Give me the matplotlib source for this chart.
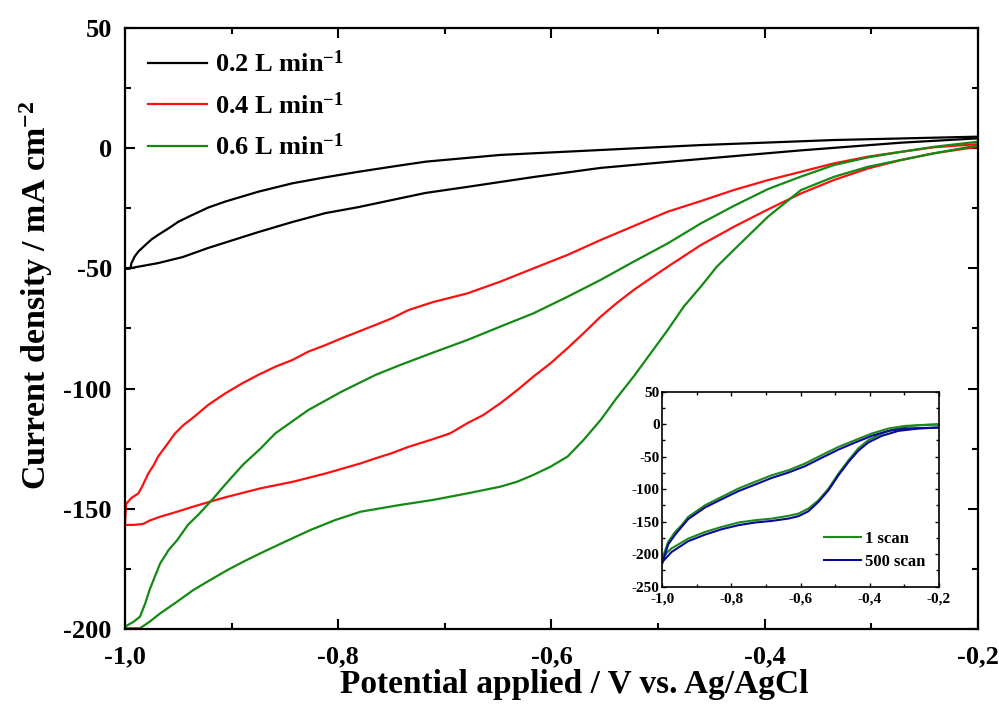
import matplotlib
matplotlib.use("Agg")
import matplotlib.pyplot as plt
from matplotlib.ticker import MultipleLocator

plt.rcParams['font.family'] = ['Liberation Serif', 'DejaVu Serif']
plt.rcParams['font.weight'] = 'bold'
plt.rcParams['mathtext.fontset'] = 'custom'
plt.rcParams['mathtext.rm'] = 'Liberation Serif:bold'
plt.rcParams['mathtext.it'] = 'Liberation Serif:bold'
plt.rcParams['mathtext.bf'] = 'Liberation Serif:bold'
plt.rcParams['axes.unicode_minus'] = False

# ---- Cyclic voltammograms at three electrolyte flow rates ----
# 0.2 L/min
v02_upper = [-1.0, -0.995, -0.994, -0.991, -0.9875, -0.981, -0.975, -0.969, -0.959, -0.950,
             -0.937, -0.922, -0.906, -0.875, -0.843, -0.812, -0.781, -0.750, -0.718, -0.648,
             -0.554, -0.460, -0.335, -0.2]
j02_upper = [-50.2, -50.0, -47.9, -45.1, -43.0, -40.3, -37.9, -36.1, -33.3, -30.6,
             -27.8, -24.7, -22.2, -18.1, -14.6, -12.1, -9.8, -7.7, -5.6, -2.8,
             -0.75, 1.3, 3.4, 4.8]
v02_lower = [-1.0, -0.969, -0.946, -0.922, -0.875, -0.843, -0.812, -0.781, -0.749, -0.718,
             -0.679, -0.617, -0.554, -0.491, -0.429, -0.366, -0.272, -0.2]
j02_lower = [-50.3, -47.8, -45.3, -41.5, -34.9, -30.7, -27.0, -24.5, -21.5, -18.6,
             -16.1, -12.0, -8.2, -5.7, -3.3, -0.9, 2.3, 4.1]

# 0.4 L/min
v04_upper = [-1.0, -0.999, -0.994, -0.9875, -0.984, -0.981, -0.978, -0.973, -0.969, -0.961,
             -0.953, -0.945, -0.937, -0.922, -0.906, -0.890, -0.875, -0.859, -0.843, -0.828,
             -0.812, -0.797, -0.781, -0.765, -0.750, -0.734, -0.718, -0.711, -0.679, -0.648,
             -0.617, -0.585, -0.554, -0.523, -0.491, -0.460, -0.429, -0.398, -0.366, -0.335,
             -0.303, -0.272, -0.241, -0.2]
j04_upper = [-156.0, -148.0, -145.5, -143.6, -140.8, -138.0, -135.2, -131.8, -128.3, -123.5,
             -118.6, -115.1, -112.4, -106.8, -102.0, -97.8, -94.3, -90.9, -88.1, -84.6,
             -81.9, -79.1, -76.3, -73.5, -70.8, -67.3, -65.0, -64.0, -60.4, -55.5,
             -50.0, -44.4, -38.2, -32.4, -26.4, -22.0, -17.4, -13.4, -9.8, -6.3,
             -3.5, -1.5, 0.4, 1.7]
v04_lower = [-1.0, -0.992, -0.983, -0.977, -0.967, -0.951, -0.936, -0.920, -0.904, -0.873,
             -0.842, -0.811, -0.779, -0.765, -0.750, -0.734, -0.718, -0.711, -0.695, -0.679,
             -0.664, -0.648, -0.632, -0.617, -0.601, -0.585, -0.570, -0.554, -0.539, -0.523,
             -0.507, -0.491, -0.460, -0.429, -0.398, -0.366, -0.335, -0.303, -0.272, -0.241,
             -0.2]
j04_lower = [-156.7, -156.7, -156.3, -154.9, -153.3, -151.2, -149.1, -147.0, -145.0, -141.5,
             -138.7, -135.2, -131.1, -129.0, -126.9, -124.2, -122.0, -121.0, -118.6, -114.4,
             -111.0, -106.1, -100.6, -95.0, -89.5, -83.2, -77.0, -70.1, -64.5, -59.0,
             -54.1, -49.3, -40.3, -32.7, -25.7, -18.8, -13.2, -8.4, -4.9, -2.1,
             0.6]

# 0.6 L/min
v06_upper = [-1.0, -0.992, -0.986, -0.981, -0.977, -0.972, -0.967, -0.959, -0.951, -0.941,
             -0.930, -0.917, -0.905, -0.889, -0.873, -0.859, -0.828, -0.797, -0.765, -0.742,
             -0.711, -0.679, -0.648, -0.617, -0.585, -0.554, -0.523, -0.491, -0.460, -0.429,
             -0.397, -0.366, -0.335, -0.303, -0.272, -0.241, -0.2]
j06_upper = [-199.0, -197.0, -194.9, -189.3, -183.8, -178.2, -172.7, -167.1, -163.0, -156.7,
             -151.9, -145.6, -139.4, -131.5, -125.0, -118.6, -108.9, -101.3, -94.3, -90.2,
             -85.0, -79.8, -74.2, -68.7, -61.8, -54.8, -47.2, -39.6, -31.3, -24.0,
             -17.0, -11.8, -7.0, -3.8, -1.5, 0.6, 2.7]
v06_lower = [-1.0, -0.986, -0.977, -0.967, -0.951, -0.936, -0.920, -0.904, -0.889, -0.873,
             -0.850, -0.826, -0.803, -0.779, -0.742, -0.711, -0.679, -0.648, -0.632, -0.617,
             -0.601, -0.585, -0.570, -0.554, -0.539, -0.523, -0.507, -0.491, -0.476, -0.460,
             -0.445, -0.429, -0.397, -0.366, -0.335, -0.303, -0.272, -0.241, -0.2]
j06_lower = [-199.7, -199.7, -197.0, -193.5, -188.6, -183.8, -179.6, -175.5, -172.0, -168.5,
             -163.7, -158.8, -154.7, -151.2, -148.4, -146.3, -143.6, -140.8, -138.7, -135.9,
             -132.5, -128.3, -121.4, -113.1, -104.0, -95.0, -85.3, -75.6, -65.9, -57.6,
             -49.3, -42.3, -28.5, -17.4, -11.9, -7.7, -4.9, -2.1, 1.2]

# ---- Stability test (0.6 L/min): first and 500th scan ----
vin_upper = [-1.0, -0.983, -0.963, -0.944, -0.925, -0.876, -0.828, -0.780, -0.732, -0.683,
             -0.635, -0.587, -0.539, -0.490, -0.442, -0.394, -0.346, -0.297, -0.2]
j1_upper = [-206.7, -181.0, -165.7, -155.4, -142.6, -124.6, -111.8, -99.0, -88.7, -78.5,
            -70.8, -60.5, -47.7, -34.9, -24.6, -14.4, -6.7, -2.6, 0.0]
j500_upper = [-214.0, -185.0, -170.0, -158.0, -146.0, -128.0, -115.4, -103.0, -93.0, -82.6,
              -74.4, -64.6, -51.8, -39.0, -28.2, -18.0, -10.3, -6.7, -5.1]
vin_lower = [-1.0, -0.973, -0.925, -0.876, -0.828, -0.780, -0.732, -0.683, -0.635, -0.606,
             -0.577, -0.548, -0.519, -0.490, -0.461, -0.433, -0.404, -0.365, -0.317, -0.259, -0.2]
j1_lower = [-204.0, -191.0, -176.0, -165.7, -158.0, -151.3, -147.7, -145.2, -141.0, -137.5,
            -129.8, -117.0, -99.0, -75.9, -55.4, -37.4, -24.6, -14.4, -5.6, -1.5, -0.5]
j500_lower = [-212.0, -196.5, -180.0, -169.8, -161.6, -155.4, -151.3, -148.8, -145.2, -141.5,
              -133.9, -119.5, -101.6, -78.5, -58.0, -41.0, -28.2, -18.0, -10.3, -6.7, -5.1]

flow_labels = [r"0.2 L min$^{-1}$", r"0.4 L min$^{-1}$", r"0.6 L min$^{-1}$"]
flow_colors = ["#000000", "#ff1010", "#138a13"]
scan_labels = ["1 scan", "500 scan"]
scan_colors = ["#1e8a1e", "#0a0a9a"]

x_ticks = [-1.0, -0.8, -0.6, -0.4, -0.2]
x_tick_labels = ["-1,0", "-0,8", "-0,6", "-0,4", "-0,2"]
y_ticks = [-200, -150, -100, -50, 0, 50]
y_tick_labels = ["-200", "-150", "-100", "-50", "0", "50"]
inset_y_ticks = [-250, -200, -150, -100, -50, 0, 50]
inset_y_tick_labels = ["-250", "-200", "-150", "-100", "-50", "0", "50"]

fig = plt.figure(figsize=(9.99, 7.07), dpi=100)
ax = fig.add_axes([125 / 999, 1 - 629 / 707, 853 / 999, 601 / 707])

series = [(v02_upper, j02_upper, v02_lower, j02_lower),
          (v04_upper, j04_upper, v04_lower, j04_lower),
          (v06_upper, j06_upper, v06_lower, j06_lower)]
for (vu, ju, vl, jl), lab, col in zip(series, flow_labels, flow_colors):
    ax.plot(vu, ju, color=col, lw=1.6, label=lab)
    ax.plot(vl, jl, color=col, lw=1.6)

ax.set_xlim(-1.0, -0.2)
ax.set_ylim(-200, 50)
ax.set_xticks(x_ticks, x_tick_labels)
ax.set_yticks(y_ticks, y_tick_labels)
ax.xaxis.set_minor_locator(MultipleLocator(0.1))
ax.yaxis.set_minor_locator(MultipleLocator(25))
ax.tick_params(which='both', direction='in', top=True, right=True, width=1.5,
               labelsize=19)
ax.tick_params(which='major', length=7.5)
ax.tick_params(which='minor', length=4.5)
ax.tick_params(axis='x', pad=12)
ax.tick_params(axis='y', pad=9.5)
for lab in ax.get_xticklabels() + ax.get_yticklabels():
    lab.set_fontweight('bold')
for sp in ax.spines.values():
    sp.set_linewidth(1.6)

ax.set_xlabel("Potential applied / V vs. Ag/AgCl", fontsize=24, fontweight='bold')
ax.set_ylabel(r"Current density / mA cm$^{-2}$", fontsize=24.5, fontweight='bold')
ax.xaxis.set_label_coords(0.527, -0.066)
ax.yaxis.set_label_coords(-0.082, 0.555)

leg = ax.legend(loc='upper left', frameon=False, fontsize=19, handlelength=2.25,
                handletextpad=0.3, labelspacing=0.56, borderaxespad=0.0, borderpad=0.0,
                bbox_to_anchor=(0.027, 0.962))
for t in leg.get_texts():
    t.set_fontweight('bold')

# Inset
axi = fig.add_axes([662.3 / 999, 1 - 586.7 / 707, 276.4 / 999, 195 / 707])
axi.plot(vin_upper, j1_upper, color=scan_colors[0], lw=1.5, label=scan_labels[0])
axi.plot(vin_lower, j1_lower, color=scan_colors[0], lw=1.5)
axi.plot(vin_upper, j500_upper, color=scan_colors[1], lw=1.5, label=scan_labels[1])
axi.plot(vin_lower, j500_lower, color=scan_colors[1], lw=1.5)
axi.set_xlim(-1.0, -0.2)
axi.set_ylim(-250, 50)
axi.set_xticks(x_ticks, x_tick_labels)
axi.set_yticks(inset_y_ticks, inset_y_tick_labels)
axi.xaxis.set_minor_locator(MultipleLocator(0.1))
axi.yaxis.set_minor_locator(MultipleLocator(25))
axi.tick_params(which='both', direction='in', top=True, right=True, width=1.0,
                labelsize=11)
axi.tick_params(axis='x', pad=4)
axi.tick_params(axis='y', pad=2)
axi.tick_params(which='major', length=3)
axi.tick_params(which='minor', length=2)
for lab in axi.get_xticklabels() + axi.get_yticklabels():
    lab.set_fontweight('bold')
for sp in axi.spines.values():
    sp.set_linewidth(1.2)
ileg = axi.legend(loc='upper left', frameon=False, fontsize=12, handlelength=2.2,
                  handletextpad=0.25, labelspacing=0.4, borderaxespad=0.0, borderpad=0.0,
                  bbox_to_anchor=(0.585, 0.284))
for t in ileg.get_texts():
    t.set_fontweight('bold')

fig.savefig("out.png", dpi=100)
